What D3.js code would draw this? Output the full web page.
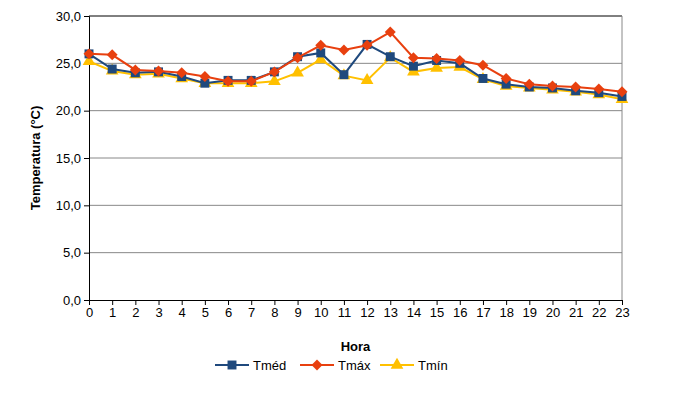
<!DOCTYPE html>
<html><head><meta charset="utf-8">
<script src="https://cdn.jsdelivr.net/npm/d3@7"></script>
<style>body{margin:0;background:#fff}text{font-family:"Liberation Sans",Arial,sans-serif}</style>
</head><body><div id="chart"></div>
<script>
const hours = d3.range(0, 24);
const tmed = [26.0,24.4,24.0,24.1,23.6,22.9,23.2,23.2,24.1,25.7,26.1,23.8,27.0,25.7,24.7,25.3,25.0,23.4,22.8,22.5,22.4,22.1,21.9,21.5];
const tmax = [26.0,25.9,24.3,24.2,24.0,23.6,23.1,23.1,24.1,25.6,26.9,26.4,26.9,28.3,25.6,25.5,25.3,24.8,23.4,22.8,22.6,22.5,22.3,22.0];
const tmin = [25.2,24.2,23.8,23.9,23.4,22.9,22.9,22.9,23.1,24.0,25.4,23.7,23.2,25.6,24.1,24.5,24.6,23.3,22.6,22.4,22.2,22.0,21.7,21.2];
const yTicks = [0,5,10,15,20,25,30];

const width = 681, height = 403;
const m = {left: 89, right: 59, top: 16, bottom: 103};
const svg = d3.select("#chart").append("svg").attr("width", width).attr("height", height);
const x = d3.scaleLinear().domain([0, 23]).range([m.left, width - m.right]);
const y = d3.scaleLinear().domain([0, 30]).range([height - m.bottom, m.top]);

svg.selectAll(".grid").data(yTicks.slice(1)).enter().append("line")
  .attr("x1", m.left).attr("x2", width - m.right)
  .attr("y1", d => y(d)).attr("y2", d => y(d))
  .attr("stroke", d => d === 30 ? "#000" : "#888").attr("stroke-width", 1);
svg.append("line").attr("x1", width - m.right).attr("x2", width - m.right)
  .attr("y1", m.top).attr("y2", y(0)).attr("stroke", "#888");

const yAxis = svg.append("g").attr("transform", `translate(${m.left},0)`)
  .call(d3.axisLeft(y).tickValues(yTicks).tickSize(5).tickFormat(d => d3.format(".1f")(d).replace(".", ",")));
const xAxis = svg.append("g").attr("transform", `translate(0,${y(0)})`)
  .call(d3.axisBottom(x).tickValues(hours).tickSize(5));
[yAxis, xAxis].forEach(a => {
  a.select(".domain").attr("stroke", "#000");
  a.selectAll("line").attr("stroke", "#000");
  a.selectAll("text").attr("font-size", 13).attr("fill", "#000");
});

svg.append("text").attr("x", (m.left + width - m.right) / 2).attr("y", 351)
  .attr("text-anchor", "middle").attr("font-size", 13).attr("font-weight", "bold").text("Hora");
svg.append("text").attr("transform", `translate(40,${(m.top + y(0)) / 2}) rotate(-90)`)
  .attr("text-anchor", "middle").attr("font-size", 13).attr("font-weight", "bold").text("Temperatura (°C)");

const series = [
  {name: "Tméd", vals: tmed, color: "#1f497d", shape: d3.symbolSquare, size: 80, rot: 0},
  {name: "Tmáx", vals: tmax, color: "#e8400f", shape: d3.symbolSquare, size: 60, rot: 45},
  {name: "Tmín", vals: tmin, color: "#ffc000", shape: d3.symbolTriangle, size: 70, rot: 0}
];
const line = d3.line().x((d, i) => x(i)).y(d => y(d));
[series[2], series[0], series[1]].forEach(s => {
  svg.append("path").datum(s.vals).attr("d", line).attr("fill", "none")
    .attr("stroke", s.color).attr("stroke-width", 2);
  svg.selectAll(null).data(s.vals).enter().append("path")
    .attr("d", d3.symbol().type(s.shape).size(s.size))
    .attr("transform", (d, i) => `translate(${x(i)},${y(d)}) rotate(${s.rot})`)
    .attr("fill", s.color);
});

const lx = [215, 300, 380];
series.forEach((s, i) => {
  const g = svg.append("g").attr("transform", `translate(${lx[i]},365)`);
  g.append("line").attr("x1", 0).attr("x2", 34).attr("stroke", s.color).attr("stroke-width", 2);
  g.append("path").attr("d", d3.symbol().type(s.shape).size(s.size)).attr("transform", `translate(17,0) rotate(${s.rot})`).attr("fill", s.color);
  g.append("text").attr("x", 38).attr("y", 4.5).attr("font-size", 13).text(s.name);
});
</script></body></html>
